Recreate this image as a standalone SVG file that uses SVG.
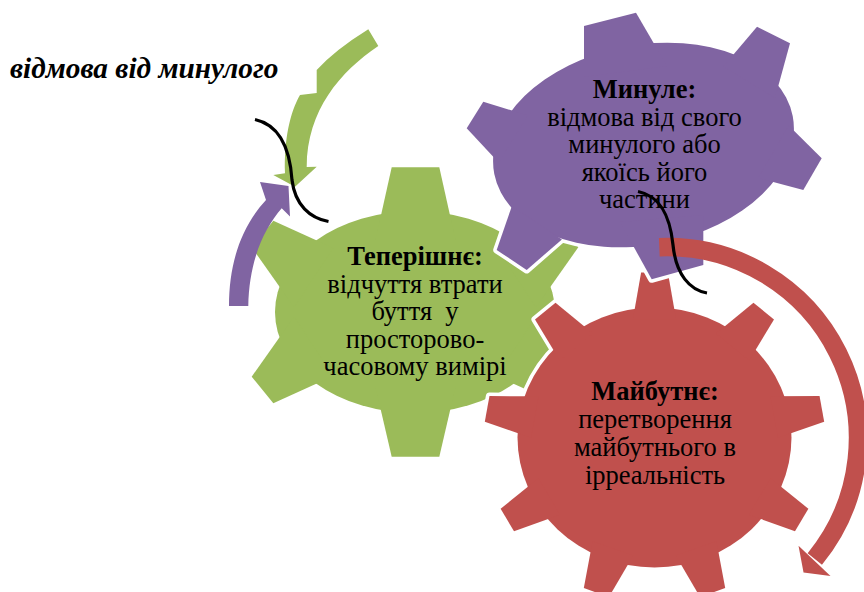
<svg xmlns="http://www.w3.org/2000/svg" xmlns:xlink="http://www.w3.org/1999/xlink" width="864" height="592" viewBox="0 0 864 592">
  <style>
    text { font-family: 'Liberation Serif', 'Times New Roman', serif; }
    .lbl { font-size: 26.5px; text-anchor: middle; fill: #000; }
    .hd { font-weight: bold; }
    .title { font-size: 29.3px; font-weight: bold; font-style: italic; fill: #000; }
    .rim { stroke: #fff; stroke-width: 7; stroke-linejoin: round; }
    .curve { fill: none; stroke: #000; stroke-width: 3.2; stroke-linecap: butt; }
  </style>
  <defs>
    <!-- gear outlines: body ellipse + teeth, drawn twice (white rim, then fill) -->
    <g id="shape-present">
      <ellipse cx="415" cy="312" rx="140" ry="101"/>
      <polygon points="391.7,167.3 439.3,167.3 455.5,240 375.5,240"/>
      <polygon points="391.7,456.7 439.3,456.7 456,385 375,385"/>
      <polygon points="251.7,376.7 273.3,403.3 333.3,376 294,316.7"/>
      <polygon points="251.7,247.3 273.3,220.7 333.3,248 294,307.3"/>
      <polygon points="578.3,376.7 556.7,403.3 496.7,376 536,316.7"/>
      <polygon points="578.3,247.3 556.7,220.7 496.7,248 536,307.3"/>
    </g>
    <polygon id="tooth9" points="-13,-165 13,-165 21,-118 -21,-118"/>
    <g id="shape-future" transform="translate(654.5,437.5) scale(1.03,1)">
      <ellipse rx="133" ry="130"/>
      <use xlink:href="#tooth9"/>
      <use xlink:href="#tooth9" transform="rotate(40)"/>
      <use xlink:href="#tooth9" transform="rotate(80)"/>
      <use xlink:href="#tooth9" transform="rotate(120)"/>
      <use xlink:href="#tooth9" transform="rotate(160)"/>
      <use xlink:href="#tooth9" transform="rotate(200)"/>
      <use xlink:href="#tooth9" transform="rotate(240)"/>
      <use xlink:href="#tooth9" transform="rotate(280)"/>
      <use xlink:href="#tooth9" transform="rotate(320)"/>
    </g>
    <g id="shape-past">
      <ellipse cx="643.5" cy="145" rx="152" ry="100" transform="rotate(-11 643.5 145)"/>
      <polygon points="584,26 636,12.7 667,66 584,77"/>
      <polygon points="757,26.7 790,43.3 775,98 723.3,66.6"/>
      <polygon points="821.7,158.3 803.3,190 758.3,177.9 788.7,125.4"/>
      <polygon points="483.3,101.7 466.7,128.3 498.6,162.4 527.8,115.4"/>
      <polygon points="496.7,250 526.7,270 561.9,239.4 511.9,206"/>
      <polygon points="651.7,279.3 703.3,265 703.3,215 620,222"/>
    </g>
  </defs>

  <!-- Present -->
  <g id="node-present">
    <use xlink:href="#shape-present" class="rim" fill="#9BBB59"/>
    <use xlink:href="#shape-present" fill="#9BBB59"/>
    <text class="lbl" x="415" y="265"><tspan class="hd">Теперішнє:</tspan><tspan x="415" dy="27.5">відчуття втрати</tspan><tspan x="415" dy="27.5" xml:space="preserve">буття  у</tspan><tspan x="415" dy="27.5">просторово-</tspan><tspan x="415" dy="27.5">часовому вимірі</tspan></text>
  </g>

  <!-- Future -->
  <g id="node-future">
    <use xlink:href="#shape-future" class="rim" fill="#C0504D"/>
    <use xlink:href="#shape-future" fill="#C0504D"/>
    <text class="lbl" x="655" y="400"><tspan class="hd">Майбутнє:</tspan><tspan x="655" dy="28">перетворення</tspan><tspan x="655" dy="28">майбутнього в</tspan><tspan x="655" dy="27.5">ірреальність</tspan></text>
  </g>

  <!-- Past -->
  <g id="node-past">
    <use xlink:href="#shape-past" class="rim" fill="#8064A2"/>
    <use xlink:href="#shape-past" fill="#8064A2"/>
    <text class="lbl" x="644.5" y="98"><tspan class="hd">Минуле:</tspan><tspan x="644.5" dy="27.5">відмова від свого</tspan><tspan x="644.5" dy="27.5">минулого або</tspan><tspan x="644.5" dy="27.5">якоїсь його</tspan><tspan x="644.5" dy="27.5">частини</tspan></text>
  </g>

  <!-- caption -->
  <g id="node-caption">
    <text class="title" x="10" y="78">відмова від минулого</text>
  </g>

  <!-- circular arrows and S-links -->
  <g id="connectors">
    <path fill="#9BBB59" d="M368.3,29.3 L378.3,46 C340,72 307,110 306.7,167 L316.7,166.7 L295,186.7 L273.3,175 L285,173.3 C284,140 290,112 300,95 L316.7,93 L316.7,70 Q335,50 368.3,29.3 Z"/>
    <path fill="#8064A2" d="M229,306 C229,265 240,228 266,200 L260,182 L288.5,186 L290,216.5 L281.7,208.3 C263,230 249,262 248.3,306 Z"/>
    <path fill="none" stroke="#C0504D" stroke-width="18.5" d="M659.3,247.2 A191,191 0 0 1 814.8,559"/>
    <polygon fill="#C0504D" points="798.5,545.7 803.5,572.5 830.5,576"/>
    <path class="curve" d="M255,119.5 C280,125 290,150 292,180 C295,205 310,218 328.5,221.5"/>
    <path class="curve" d="M638,191.5 C660,196 670,215 673,245 C676,275 690,290 707,293"/>
  </g>
</svg>
